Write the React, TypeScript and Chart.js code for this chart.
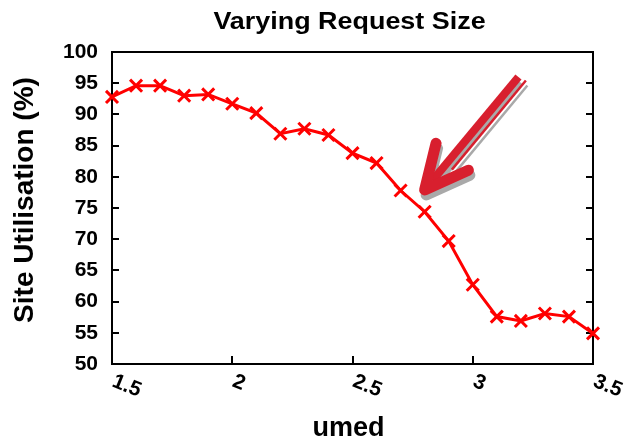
import React, { useEffect, useRef } from "react";
import { Chart, registerables } from "chart.js";

Chart.register(...registerables);

const chartTitle = "Varying Request Size";
const xAxisTitle = "umed";
const yAxisTitle = "Site Utilisation (%)";

const umed = [1.5, 1.6, 1.7, 1.8, 1.9, 2.0, 2.1, 2.2, 2.3, 2.4, 2.5, 2.6, 2.7, 2.8, 2.9, 3.0, 3.1, 3.2, 3.3, 3.4, 3.5];
const utilisation = [92.8, 94.6, 94.6, 93.0, 93.2, 91.7, 90.2, 86.9, 87.7, 86.7, 83.8, 82.2, 77.8, 74.4, 69.7, 62.7, 57.6, 56.9, 58.1, 57.6, 54.9];

const xTickValues = [1.5, 2, 2.5, 3, 3.5];
const xTickLabels = ["1.5", "2", "2.5", "3", "3.5"];

// annotation arrow, in data coordinates
const arrowTail = { x: 3.19, y: 96.0 };
const arrowTip = { x: 2.8, y: 77.9 };

const FONT = '"Liberation Sans", Arial, Helvetica, sans-serif';

const decorPlugin = {
  id: "decor",
  beforeDatasetsDraw(chart: any) {
    const { ctx, chartArea: a, scales } = chart;
    const xs = scales.x;
    const ys = scales.y;
    ctx.save();
    ctx.strokeStyle = "#000";
    ctx.lineWidth = 2;
    ctx.strokeRect(a.left, a.top, a.right - a.left, a.bottom - a.top);
    ctx.beginPath();
    ys.ticks.forEach((t: any) => {
      const py = Math.round(ys.getPixelForValue(t.value));
      ctx.moveTo(a.left, py);
      ctx.lineTo(a.left + 7, py);
      ctx.moveTo(a.right, py);
      ctx.lineTo(a.right - 7, py);
    });
    xTickValues.forEach((v) => {
      const px = Math.round(xs.getPixelForValue(v));
      ctx.moveTo(px, a.bottom);
      ctx.lineTo(px, a.bottom - 8);
    });
    ctx.stroke();
    ctx.restore();
  },
  afterDraw(chart: any) {
    const { ctx, chartArea: a, scales } = chart;
    const xs = scales.x;
    const ys = scales.y;
    ctx.save();
    ctx.fillStyle = "#000";

    // title
    ctx.save();
    ctx.font = `bold 23px ${FONT}`;
    ctx.textAlign = "center";
    ctx.textBaseline = "alphabetic";
    ctx.translate((a.left + a.right) / 2 - 3, 29);
    ctx.scale(1.17, 1);
    ctx.fillText(chartTitle, 0, 0);
    ctx.restore();

    // y title
    ctx.save();
    ctx.font = `bold 28px ${FONT}`;
    ctx.textAlign = "center";
    ctx.textBaseline = "alphabetic";
    ctx.translate(33, (a.top + a.bottom) / 2 - 8);
    ctx.rotate(-Math.PI / 2);
    ctx.fillText(yAxisTitle, 0, 0);
    ctx.restore();

    // x title
    ctx.save();
    ctx.font = `bold 27px ${FONT}`;
    ctx.textAlign = "center";
    ctx.textBaseline = "alphabetic";
    ctx.fillText(xAxisTitle, (a.left + a.right) / 2 - 4, 436);
    ctx.restore();

    // x tick labels (rotated clockwise)
    xTickValues.forEach((v, i) => {
      const px = xs.getPixelForValue(v);
      ctx.save();
      ctx.font = `bold 21px ${FONT}`;
      ctx.textAlign = "left";
      ctx.textBaseline = "alphabetic";
      ctx.translate(px - 1, a.bottom + 22);
      ctx.rotate((22 * Math.PI) / 180);
      ctx.fillText(xTickLabels[i], 0, 0);
      ctx.restore();
    });

    // arrow
    const tip = { x: xs.getPixelForValue(arrowTip.x), y: ys.getPixelForValue(arrowTip.y) };
    const tail = { x: xs.getPixelForValue(arrowTail.x), y: ys.getPixelForValue(arrowTail.y) };
    const dx = tail.x - tip.x;
    const dy = tail.y - tip.y;
    const len = Math.hypot(dx, dy);
    const ux = dx / len;
    const uy = dy / len;
    const px = -uy;
    const py = ux;
    const ang = (26 * Math.PI) / 180;
    const wing = 48;
    const rot = (s: number) => ({
      x: ux * Math.cos(s) - uy * Math.sin(s),
      y: ux * Math.sin(s) + uy * Math.cos(s),
    });
    const wl = rot(-ang);
    const wr = rot(ang);
    const drawArrow = (color: string, ox: number, oy: number) => {
      ctx.strokeStyle = color;
      ctx.lineJoin = "round";
      ctx.lineCap = "butt";
      ctx.lineWidth = 8;
      ctx.beginPath();
      ctx.moveTo(tail.x + ox, tail.y + oy);
      ctx.lineTo(tip.x + ux * 12 + ox, tip.y + uy * 12 + oy);
      ctx.stroke();
      ctx.lineWidth = 2.5;
      ctx.beginPath();
      ctx.moveTo(tip.x + ux * (len + 2) + px * 8 + ox, tip.y + uy * (len + 2) + py * 8 + oy);
      ctx.lineTo(tip.x + ux * 33 + px * 8 + ox, tip.y + uy * 33 + py * 8 + oy);
      ctx.stroke();
      ctx.lineCap = "round";
      ctx.lineWidth = 11;
      ctx.beginPath();
      ctx.moveTo(tip.x + wl.x * wing + ox, tip.y + wl.y * wing + oy);
      ctx.lineTo(tip.x + ox, tip.y + oy);
      ctx.lineTo(tip.x + wr.x * wing + ox, tip.y + wr.y * wing + oy);
      ctx.stroke();
    };
    drawArrow("#a9a9a9", 1.5, 5);
    drawArrow("#d81f2e", 0, 0);
    ctx.restore();
  },
};

export default function App() {
  const ref = useRef<HTMLCanvasElement | null>(null);
  useEffect(() => {
    document.body.style.margin = "0";
    if (!ref.current) return;
    const chart = new Chart(ref.current, {
      type: "line",
      data: {
        datasets: [
          {
            data: umed.map((x, i) => ({ x, y: utilisation[i] })),
            borderColor: "#ff0000",
            backgroundColor: "#ff0000",
            borderWidth: 3,
            pointStyle: "crossRot",
            pointRadius: 8.5,
            pointBorderWidth: 3,
            pointBorderColor: "#ff0000",
            tension: 0,
            clip: false as any,
          },
        ],
      },
      options: {
        responsive: false,
        animation: false,
        events: [],
        layout: { padding: { left: 0, top: 52, right: 36, bottom: 0 } },
        plugins: {
          legend: { display: false },
          title: { display: false },
          tooltip: { enabled: false },
        },
        scales: {
          x: {
            type: "linear",
            min: 1.5,
            max: 3.5,
            grid: { display: false, drawTicks: false },
            border: { display: false },
            ticks: { display: false },
            afterFit: (s: any) => {
              s.height = 78;
            },
          },
          y: {
            min: 50,
            max: 100,
            grid: { display: false, drawTicks: false },
            border: { display: false },
            ticks: {
              stepSize: 5,
              padding: 14,
              color: "#000",
              font: { family: FONT, size: 21, weight: "bold" },
            },
            afterFit: (s: any) => {
              s.width = 112;
            },
          },
        },
      },
      plugins: [decorPlugin],
    });
    return () => chart.destroy();
  }, []);
  return (
    <div style={{ width: 629, height: 442 }}>
      <canvas ref={ref} width={629} height={442} style={{ display: "block" }} />
    </div>
  );
}
